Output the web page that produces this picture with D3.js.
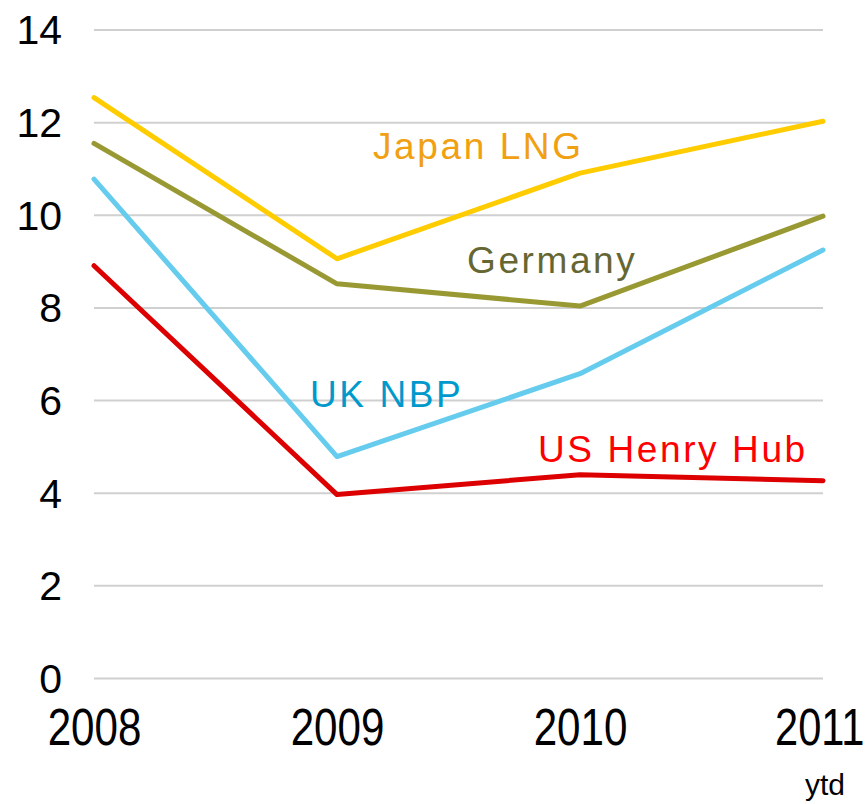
<!DOCTYPE html>
<html><head><meta charset="utf-8">
<script src="https://cdn.jsdelivr.net/npm/d3@7"></script>
<style>body{margin:0;background:#fff}svg{display:block}</style>
</head><body>
<svg id="c" width="865" height="804"></svg>
<script>
const years = ["2008", "2009", "2010", "2011"];
const yTicks = [0, 2, 4, 6, 8, 10, 12, 14];
const japanLNG = [12.53, 9.05, 10.9, 12.02];
const germany = [11.54, 8.51, 8.03, 9.97];
const ukNBP = [10.77, 4.78, 6.57, 9.24];
const usHenryHub = [8.9, 3.96, 4.39, 4.26];
const seriesNames = ["Japan LNG", "Germany", "UK NBP", "US Henry Hub"];

const series = [
  {name: seriesNames[0], values: japanLNG, line: "#FFCC00", text: "#F0A010", lx: 373, ly: 159},
  {name: seriesNames[1], values: germany, line: "#999933", text: "#666633", lx: 467, ly: 273},
  {name: seriesNames[2], values: ukNBP, line: "#66CCEE", text: "#0099CC", lx: 310, ly: 407},
  {name: seriesNames[3], values: usHenryHub, line: "#DD0000", text: "#FF0000", lx: 538, ly: 462}
];

const svg = d3.select("#c");
const x = d3.scalePoint().domain(years).range([94, 823]);
const y = d3.scaleLinear().domain([0, 14]).range([678, 29.5]);

const yAxis = d3.axisLeft(y).tickValues(yTicks).tickSize(-(823 - 94)).tickPadding(32).tickFormat(d3.format("d"));
const gy = svg.append("g").attr("transform", "translate(94,0)").call(yAxis);
gy.select(".domain").remove();
gy.selectAll(".tick line").attr("stroke", "#d0d0d0").attr("stroke-width", 2);
gy.selectAll(".tick text").attr("font-family", "Liberation Sans, Arial, sans-serif")
  .attr("font-size", 41).attr("fill", "#000").attr("dy", "0.35em");

const xAxis = d3.axisBottom(x).tickSize(0).tickPadding(0);
const gx = svg.append("g").attr("transform", "translate(0,678)").call(xAxis);
gx.select(".domain").remove();
gx.selectAll(".tick text").attr("font-family", "Liberation Sans, Arial, sans-serif")
  .attr("font-size", 52).attr("fill", "#000").attr("dy", null).attr("y", 0)
  .attr("transform", (d, i) => i === years.length - 1
      ? "translate(" + (864 - x(d)) + ",67) scale(0.8,1)"
      : "translate(0,67) scale(0.81,1)")
  .attr("text-anchor", (d, i) => i === years.length - 1 ? "end" : "middle");

svg.append("text").attr("x", 845).attr("y", 795).attr("text-anchor", "end")
  .attr("font-family", "Liberation Sans, Arial, sans-serif").attr("font-size", 30).text("ytd");

const line = d3.line().x((d, i) => x(years[i])).y(d => y(d));
series.forEach(s => {
  svg.append("path").datum(s.values).attr("d", line).attr("fill", "none")
    .attr("stroke", s.line).attr("stroke-width", 5).attr("stroke-linejoin", "round").attr("stroke-linecap", "round");
});
series.forEach(s => {
  svg.append("text").attr("x", s.lx).attr("y", s.ly).attr("fill", s.text)
    .attr("font-family", "Liberation Sans, Arial, sans-serif").attr("font-size", 37)
    .attr("letter-spacing", 2.6).text(s.name);
});
</script>
</body></html>
